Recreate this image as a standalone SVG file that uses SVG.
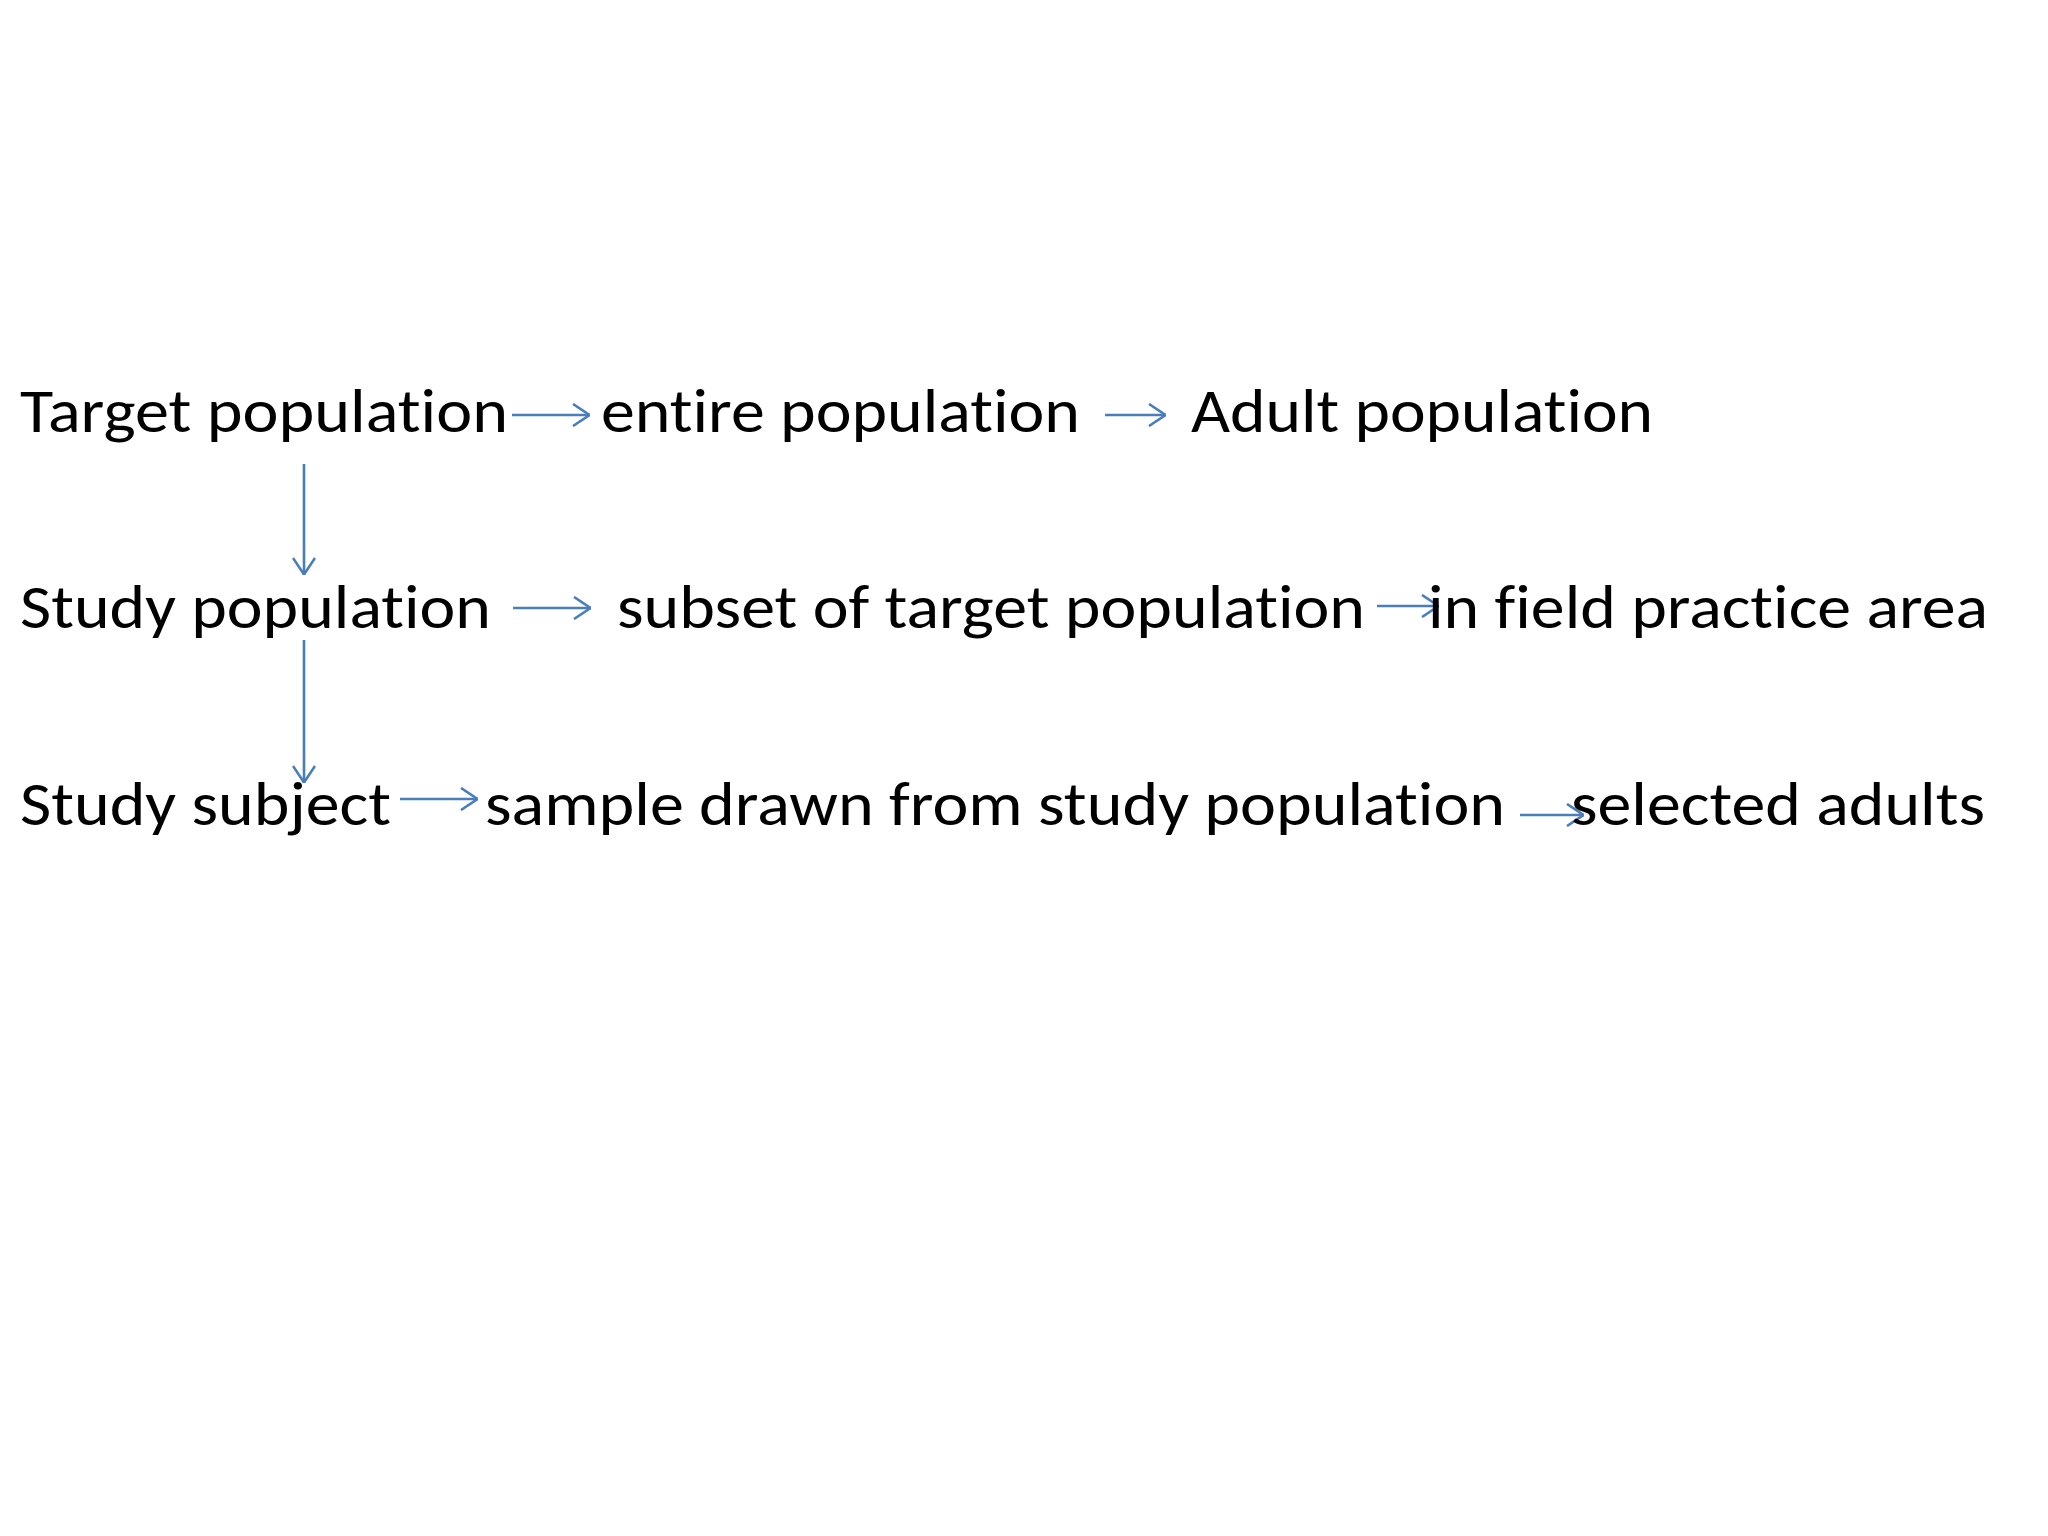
<svg xmlns="http://www.w3.org/2000/svg" width="2048" height="1536" viewBox="0 0 2048 1536">
  <style>
    .lbl { font-family: Calibri, Carlito, Lato, "Liberation Sans", sans-serif; font-size: 62px; fill: #000000; font-variant-ligatures: none; font-feature-settings: "liga" 0, "clig" 0; }
    .conn { stroke: #4A7EBB; stroke-width: 2.6; fill: none; }
  </style>
  <defs>
    <marker id="open" viewBox="0 0 18 24" refX="18" refY="12" markerWidth="18" markerHeight="24" markerUnits="userSpaceOnUse" orient="auto">
      <path d="M1,1 L17.5,12 L1,23" fill="none" stroke="#4A7EBB" stroke-width="2.6"/>
    </marker>
  </defs>
  <rect x="0" y="0" width="2048" height="1536" fill="#ffffff"/>

  <g id="connectors">
    <line class="conn" x1="512" y1="415" x2="590" y2="415" marker-end="url(#open)"/>
    <line class="conn" x1="1105" y1="415" x2="1166" y2="415" marker-end="url(#open)"/>
    <line class="conn" x1="513" y1="608" x2="591" y2="608" marker-end="url(#open)"/>
    <line class="conn" x1="1377" y1="606" x2="1439" y2="606" marker-end="url(#open)"/>
    <line class="conn" x1="400" y1="799" x2="478" y2="799" marker-end="url(#open)"/>
    <line class="conn" x1="1520" y1="815" x2="1584" y2="815" marker-end="url(#open)"/>
    <line class="conn" x1="304" y1="464" x2="304" y2="575" marker-end="url(#open)"/>
    <line class="conn" x1="304" y1="640" x2="304" y2="783" marker-end="url(#open)"/>
  </g>

  <g id="target-population"><text class="lbl" x="20" y="432" textLength="488" lengthAdjust="spacingAndGlyphs">Target population</text></g>
  <g id="entire-population"><text class="lbl" x="601" y="432" textLength="479" lengthAdjust="spacingAndGlyphs">entire population</text></g>
  <g id="adult-population"><text class="lbl" x="1191" y="432" textLength="462" lengthAdjust="spacingAndGlyphs">Adult population</text></g>

  <g id="study-population"><text class="lbl" x="20" y="628" textLength="471" lengthAdjust="spacingAndGlyphs">Study population</text></g>
  <g id="subset-target"><text class="lbl" x="617" y="628" textLength="748" lengthAdjust="spacingAndGlyphs">subset of target population</text></g>
  <g id="field-practice"><text class="lbl" x="1428" y="628" textLength="560" lengthAdjust="spacingAndGlyphs">in field practice area</text></g>

  <g id="study-subject"><text class="lbl" x="20" y="825" textLength="371" lengthAdjust="spacingAndGlyphs">Study subject</text></g>
  <g id="sample-drawn"><text class="lbl" x="485" y="825" textLength="1020" lengthAdjust="spacingAndGlyphs">sample drawn from study population</text></g>
  <g id="selected-adults"><text class="lbl" x="1571" y="825" textLength="414" lengthAdjust="spacingAndGlyphs">selected adults</text></g>
</svg>
